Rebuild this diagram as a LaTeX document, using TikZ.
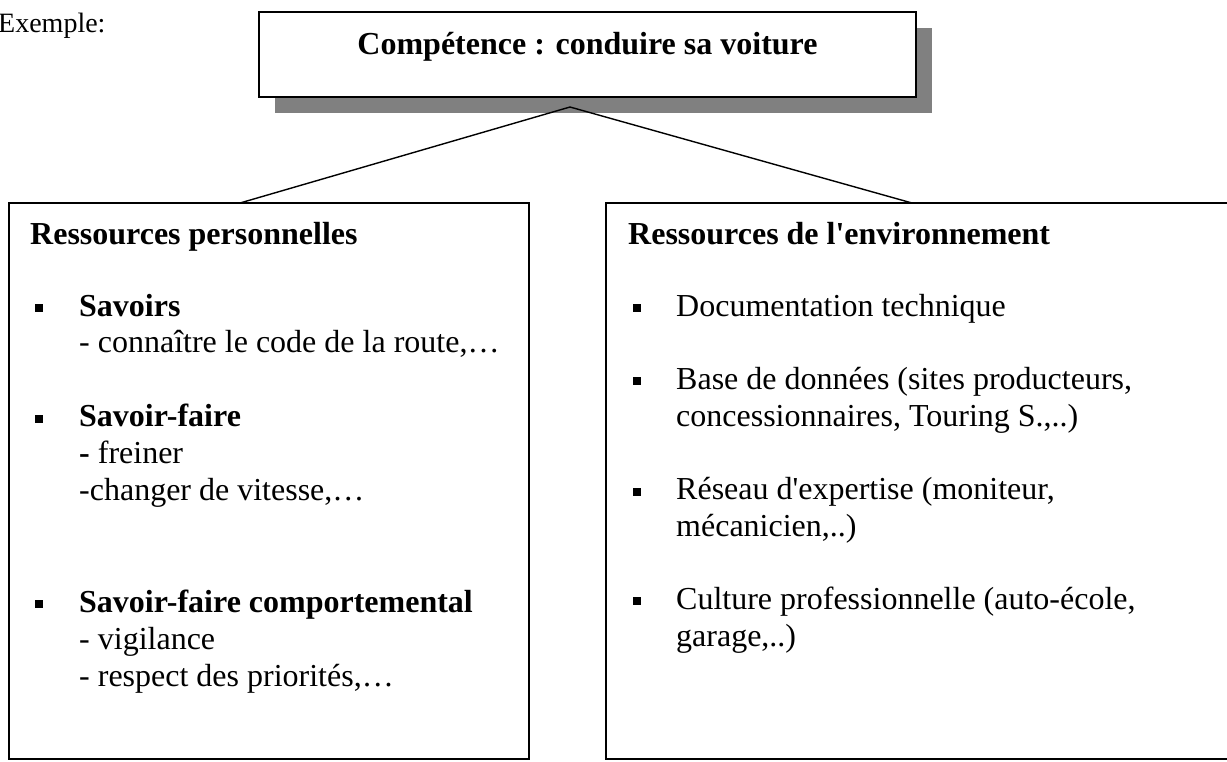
\documentclass[tikz,border=0pt]{standalone}
\usepackage{fontspec}
\setmainfont{Liberation Serif}
\usepackage{tikz}
\usetikzlibrary{shadows}
\newcommand{\corps}{\fontsize{32}{37}\selectfont}
\tikzstyle{goalbox} = [rectangle, draw=black, line width=2.8pt, fill=white, minimum width=657pt, minimum height=85pt, anchor=north west, inner sep=0pt, outer sep=0pt, drop shadow={shadow xshift=16pt, shadow yshift=-16pt, fill=black!50, opacity=1}]
\tikzstyle{resbox} = [rectangle, draw=black, line width=2.4pt, anchor=north west, inner sep=0pt, outer sep=0pt, minimum height=556pt]
\tikzstyle{head} = [anchor=base west, inner sep=0pt, font=\corps\bfseries]
\tikzstyle{txt} = [anchor=base west, inner sep=0pt, font=\corps]
\tikzstyle{puce} = [rectangle, fill=black, minimum size=8pt, inner sep=0pt]
\tikzstyle{link} = [line width=1.4pt, draw=black]
\begin{document}
\begin{tikzpicture}[x=1pt, y=-1pt]
    \useasboundingbox (0,0) rectangle (1227,761);

    \node (exemple) [txt, font=\fontsize{28}{30}\selectfont] at (-2,32) {Exemple:};

    % competence en haut
    \node (goal) [goalbox] at (259,12) {};
    \node (goaltext) [head, anchor=base] at (587.5,54) {Compétence : conduire sa voiture};

    % les deux cadres de ressources
    \node (pers) [resbox, minimum width=520pt] at (9,203) {};
    \node (env) [resbox, minimum width=640pt] at (606,203) {};

    \node (persh) [head] at (30,244) {Ressources personnelles};
    \node (p1) [puce] at (39,308) {};
    \node (p1a) [head] at (79,316) {Savoirs};
    \node (p1b) [txt] at (79,352.5) {- connaître le code de la route,…};
    \node (p2) [puce] at (39,418.5) {};
    \node (p2a) [head] at (79,426.5) {Savoir-faire};
    \node (p2b) [txt] at (79,463) {\textbf{-} freiner};
    \node (p2c) [txt] at (79,500) {-changer de vitesse,…};
    \node (p3) [puce] at (39,604) {};
    \node (p3a) [head] at (79,612) {Savoir-faire comportemental};
    \node (p3b) [txt] at (79,649) {- vigilance};
    \node (p3c) [txt] at (79,686) {- respect des priorités,…};

    \node (envh) [head] at (628,244) {Ressources de l\textquotesingle environnement};
    \node (e1) [puce] at (637,308) {};
    \node (e1a) [txt] at (676,316) {Documentation technique};
    \node (e2) [puce] at (637,381) {};
    \node (e2a) [txt] at (676,389) {Base de données (sites producteurs,};
    \node (e2b) [txt] at (676,426) {concessionnaires, Touring S.,..)};
    \node (e3) [puce] at (637,491.5) {};
    \node (e3a) [txt] at (676,499.5) {Réseau d\textquotesingle expertise (moniteur,};
    \node (e3b) [txt] at (676,536.5) {mécanicien,..)};
    \node (e4) [puce] at (637,601) {};
    \node (e4a) [txt] at (676,609) {Culture professionnelle (auto-école,};
    \node (e4b) [txt] at (676,646) {garage,..)};

    % liaisons
    \coordinate (apex) at (570,107);
    \coordinate (persin) at (240,203);
    \coordinate (envin) at (912,203);
    \draw [link] (persin) -- (apex) -- (envin);
\end{tikzpicture}
\end{document}
